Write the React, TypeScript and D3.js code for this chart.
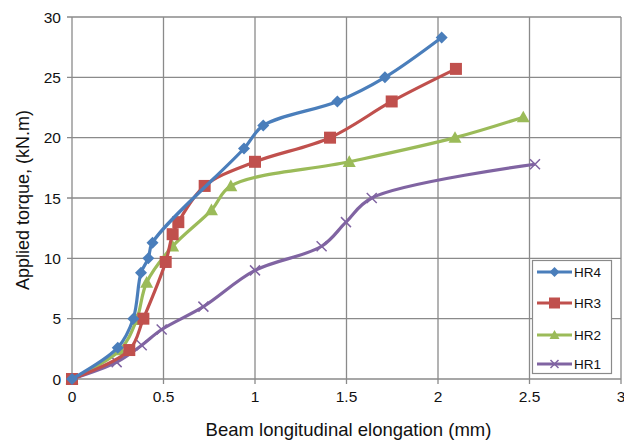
import React, { useEffect, useRef } from 'react';
import * as d3 from 'd3';

interface Pt { x: number; y: number; }

// elongation (mm) / torque (kN.m)
const hr4X = [0, 0.25, 0.335, 0.377, 0.417, 0.44, 0.94, 1.045, 1.45, 1.71, 2.02];
const hr4Y = [0, 2.6, 5.0, 8.8, 10.0, 11.3, 19.1, 21.0, 23.0, 25.0, 28.3];
const hr3X = [0, 0.313, 0.39, 0.512, 0.55, 0.581, 0.725, 1.0, 1.41, 1.747, 2.098];
const hr3Y = [0, 2.4, 5.0, 9.7, 12.0, 13.0, 16.0, 18.0, 20.0, 23.0, 25.7];
const hr2X = [0, 0.262, 0.353, 0.408, 0.55, 0.762, 0.868, 1.515, 2.093, 2.466];
const hr2Y = [0, 2.4, 4.9, 8.0, 11.0, 14.0, 16.0, 18.0, 20.0, 21.7];
const hr1X = [0, 0.244, 0.381, 0.49, 0.718, 1.0, 1.364, 1.497, 1.638, 2.53];
const hr1Y = [0, 1.4, 2.8, 4.1, 6.0, 9.0, 11.0, 13.0, 15.0, 17.8];

const xTicks = [0, 0.5, 1, 1.5, 2, 2.5, 3];
const yTicks = [0, 5, 10, 15, 20, 25, 30];
const xTickLabels = ['0', '0.5', '1', '1.5', '2', '2.5', '3'];

const series = [
  { name: 'HR4', xs: hr4X, ys: hr4Y, color: '#4A7EBB', marker: 'diamond' },
  { name: 'HR3', xs: hr3X, ys: hr3Y, color: '#C0504D', marker: 'square' },
  { name: 'HR2', xs: hr2X, ys: hr2Y, color: '#9BBB59', marker: 'triangle' },
  { name: 'HR1', xs: hr1X, ys: hr1Y, color: '#8064A2', marker: 'x' },
];

const App: React.FC = () => {
  const chartRef = useRef<SVGSVGElement>(null);

  useEffect(() => {
    if (!chartRef.current) return;
    d3.select(chartRef.current).selectAll('*').remove();

    const width = 624;
    const height = 440;
    const margin = { top: 17, right: 3, bottom: 61, left: 72 };
    const gridColor = '#8A8A8A';
    const font = '"Liberation Sans", Arial, sans-serif';

    const svg = d3.select(chartRef.current)
      .attr('width', width)
      .attr('height', height)
      .style('font-family', font);

    const xScale = d3.scaleLinear().domain([0, 3]).range([margin.left, width - margin.right]);
    const yScale = d3.scaleLinear().domain([0, 30]).range([height - margin.bottom, margin.top]);

    // Grid lines
    svg.append('g')
      .selectAll('line')
      .data(xTicks)
      .enter()
      .append('line')
      .attr('x1', d => xScale(d))
      .attr('x2', d => xScale(d))
      .attr('y1', yScale(0) + 5)
      .attr('y2', yScale(30))
      .attr('stroke', gridColor)
      .attr('stroke-width', 1.3);

    svg.append('g')
      .selectAll('line')
      .data(yTicks)
      .enter()
      .append('line')
      .attr('x1', xScale(0) - 5)
      .attr('x2', xScale(3))
      .attr('y1', d => yScale(d))
      .attr('y2', d => yScale(d))
      .attr('stroke', gridColor)
      .attr('stroke-width', 1.3);

    // Tick labels
    svg.append('g')
      .selectAll('text')
      .data(yTicks)
      .enter()
      .append('text')
      .attr('x', xScale(0) - 11)
      .attr('y', d => yScale(d) + 5.5)
      .attr('text-anchor', 'end')
      .style('font-size', '15.5px')
      .attr('fill', '#111')
      .text(d => String(d));

    svg.append('g')
      .selectAll('text')
      .data(xTicks)
      .enter()
      .append('text')
      .attr('x', d => xScale(d))
      .attr('y', yScale(0) + 23)
      .attr('text-anchor', 'middle')
      .style('font-size', '15.5px')
      .attr('fill', '#111')
      .text((d, i) => xTickLabels[i]);

    // Axis titles
    svg.append('text')
      .attr('x', (xScale(0) + xScale(3)) / 2 + 2)
      .attr('y', 436)
      .attr('text-anchor', 'middle')
      .style('font-size', '18.5px')
      .attr('fill', '#111')
      .text('Beam longitudinal elongation (mm)');

    svg.append('text')
      .attr('transform', 'translate(29,200) rotate(-90)')
      .attr('text-anchor', 'middle')
      .style('font-size', '18px')
      .attr('fill', '#111')
      .text('Applied torque, (kN.m)');

    const line = d3.line<Pt>()
      .x(d => xScale(d.x))
      .y(d => yScale(d.y))
      .curve(d3.curveCatmullRom.alpha(0.5));

    const drawMarker = (g: any, kind: string, cx: number, cy: number, color: string, s: number) => {
      if (kind === 'diamond') {
        g.append('path')
          .attr('d', `M${cx},${cy - s}L${cx + s},${cy}L${cx},${cy + s}L${cx - s},${cy}Z`)
          .attr('fill', color);
      } else if (kind === 'square') {
        g.append('rect')
          .attr('x', cx - s)
          .attr('y', cy - s)
          .attr('width', 2 * s)
          .attr('height', 2 * s)
          .attr('fill', color);
      } else if (kind === 'triangle') {
        g.append('path')
          .attr('d', `M${cx},${cy - s}L${cx + s},${cy + s * 0.8}L${cx - s},${cy + s * 0.8}Z`)
          .attr('fill', color);
      } else {
        g.append('path')
          .attr('d', `M${cx - s},${cy - s}L${cx + s},${cy + s}M${cx - s},${cy + s}L${cx + s},${cy - s}`)
          .attr('stroke', color)
          .attr('stroke-width', 1.5)
          .attr('fill', 'none');
      }
    };

    const markerSize: Record<string, number> = { diamond: 6, square: 6, triangle: 6.5, x: 5 };

    // Draw series (last first so HR4 sits on top)
    [...series].reverse().forEach(s => {
      const pts: Pt[] = s.xs.map((x, i) => ({ x, y: s.ys[i] }));
      const g = svg.append('g');
      g.append('path')
        .datum(pts)
        .attr('d', line)
        .attr('fill', 'none')
        .attr('stroke', s.color)
        .attr('stroke-width', 3.2)
        .attr('stroke-linejoin', 'round');
      pts.forEach(p => drawMarker(g, s.marker, xScale(p.x), yScale(p.y), s.color, markerSize[s.marker]));
    });

    // Legend
    const legend = svg.append('g');
    legend.append('rect')
      .attr('x', 532.5)
      .attr('y', 260.5)
      .attr('width', 79)
      .attr('height', 113)
      .attr('fill', '#fff')
      .attr('stroke', '#8A8A8A')
      .attr('stroke-width', 1.2);

    const legendY = [272, 303, 335, 364];
    series.forEach((s, i) => {
      const ly = legendY[i];
      legend.append('line')
        .attr('x1', 537)
        .attr('x2', 572)
        .attr('y1', ly)
        .attr('y2', ly)
        .attr('stroke', s.color)
        .attr('stroke-width', 3.2);
      drawMarker(legend, s.marker, 554.5, ly, s.color, s.marker === 'x' ? 4 : s.marker === 'square' ? 5.5 : 5);
      legend.append('text')
        .attr('x', 574)
        .attr('y', ly + 5)
        .style('font-size', '13.5px')
        .attr('fill', '#111')
        .text(s.name);
    });
  }, []);

  return (
    <div style={{ position: 'absolute', left: 0, top: 0, width: 624, height: 440, background: '#fff' }}>
      <svg ref={chartRef} style={{ display: 'block' }}></svg>
    </div>
  );
};

export default App;
